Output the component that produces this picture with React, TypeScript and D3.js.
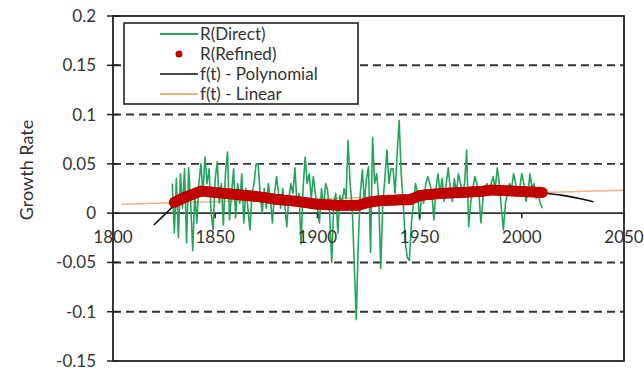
import React from "react";
import * as d3 from "d3";

const W = 644;
const H = 372;

const yTicks = [0.2, 0.15, 0.1, 0.05, 0, -0.05, -0.1, -0.15];
const yTickLabels = ["0.2", "0.15", "0.1", "0.05", "0", "-0.05", "-0.1", "-0.15"];
const xTicks = [1800, 1850, 1900, 1950, 2000, 2050];
const xTickLabels = ["1800", "1850", "1900", "1950", "2000", "2050"];

const directStartYear = 1829;
const directValues = [
  0.03, -0.02, 0.035, -0.025, 0.04, 0.005, 0.045, -0.03, 0.046, 0.01, -0.038,
  0.02, -0.01, 0.03, 0.05, 0.02, 0.057, 0.03, 0.045, 0.0, -0.017,
  0.035, 0.052, 0.01, 0.03, -0.012, 0.04, 0.062, -0.007, 0.02, 0.045,
  -0.005, 0.03, 0.01, 0.04, -0.01, 0.025, 0.005, -0.017, 0.02, 0.03,
  0.05, 0.05, 0.02, 0.0, 0.025, 0.005, 0.03, 0.015, -0.01, 0.02,
  0.037, 0.02, 0.005, 0.025, 0.01, -0.014, 0.015, 0.03, 0.02, 0.046,
  0.01, 0.02, -0.031, 0.025, 0.057, 0.03, 0.04, 0.015, 0.037, 0.02,
  0.005, -0.01, 0.025, 0.005, 0.03, 0.023, 0.0, -0.05, 0.01, 0.02,
  -0.02, 0.018, 0.01, 0.025, 0.015, 0.074, 0.03, 0.007, -0.05, -0.108,
  -0.03, 0.02, 0.044, 0.01, 0.035, 0.047, -0.04, 0.077, 0.03, 0.04,
  0.015, -0.056, 0.01, 0.035, 0.064, 0.03, 0.045, 0.045, 0.02, 0.06,
  0.094, 0.04, 0.01, -0.03, -0.045, -0.048, -0.01, 0.01, 0.03, 0.02,
  -0.007, 0.02, 0.01, 0.03, 0.037, 0.03, 0.02, -0.007, 0.025, 0.04,
  0.02, 0.035, 0.012, 0.03, 0.046, 0.025, 0.012, 0.035, 0.02, 0.04,
  0.03, 0.02, 0.03, 0.064, -0.014, 0.01, 0.025, 0.037, 0.03, 0.02,
  -0.01, 0.015, 0.025, 0.03, 0.02, 0.03, 0.037, 0.025, 0.046, 0.03,
  0.005, -0.017, 0.01, 0.02, 0.03, 0.025, 0.04, 0.03, 0.02, 0.025,
  0.04, 0.03, 0.012, 0.02, 0.04, 0.025, 0.03, 0.015, 0.02, 0.01,
  0.005,
];

const refinedYears = [1830, 1835, 1840, 1843, 1845, 1850, 1860, 1870, 1880, 1890, 1900, 1910, 1920, 1925, 1930, 1940, 1945, 1948, 1950, 1960, 1970, 1980, 1985, 1990, 2000, 2010];
const refinedValues = [0.011, 0.016, 0.020, 0.0225, 0.022, 0.021, 0.019, 0.017, 0.014, 0.012, 0.009, 0.008, 0.008, 0.011, 0.0125, 0.0135, 0.0135, 0.016, 0.018, 0.020, 0.021, 0.022, 0.0235, 0.023, 0.022, 0.021];

const polyYears = [1820, 1825, 1830, 1840, 1850, 1870, 1900, 1920, 1950, 1980, 2000, 2010, 2020, 2030, 2035];
const polyValues = [-0.012, -0.002, 0.008, 0.018, 0.02, 0.017, 0.01, 0.009, 0.017, 0.022, 0.022, 0.0205, 0.018, 0.014, 0.0115];

const linearYears = [1804, 2050];
const linearValues = [0.009, 0.0233];

const legendLabels = ["R(Direct)", "R(Refined)", "f(t) - Polynomial", "f(t) - Linear"];

const GREEN = "#22a55b";
const RED = "#c00000";
const ORANGE = "#f4b183";
const FONT = "Lato, 'Open Sans', sans-serif";
const TEXT = "#333";

export default function App() {
  const left = 113, right = 624, top = 16, bottom = 361;
  const x = d3.scaleLinear().domain([1800, 2050]).range([left, right]);
  const y = d3.scaleLinear().domain([-0.15, 0.2]).range([bottom, top]);

  const line = d3
    .line<[number, number]>()
    .x((d) => x(d[0]))
    .y((d) => y(d[1]));
  const smooth = d3
    .line<[number, number]>()
    .x((d) => x(d[0]))
    .y((d) => y(d[1]))
    .curve(d3.curveMonotoneX);

  const direct: [number, number][] = directValues.map((v, i) => [directStartYear + i, v]);
  const refinedInterp = d3.scaleLinear().domain(refinedYears).range(refinedValues);
  const refinedPts: [number, number][] = d3.range(1830, 2011, 1).map((yr) => [yr, refinedInterp(yr)]);
  const poly: [number, number][] = polyYears.map((yr, i) => [yr, polyValues[i]]);
  const lin: [number, number][] = linearYears.map((yr, i) => [yr, linearValues[i]]);

  const lx0 = 160, lx1 = 198, ltx = 200;
  const legendY = [34, 54, 74, 94];

  return (
    <svg width={W} height={H} style={{ position: "absolute", left: 0, top: 0, background: "#fff" }}>
      <rect x={0} y={0} width={W} height={H} fill="#fff" />
      {yTicks.map((t) =>
        t === 0.2 || t === -0.15 ? null : (
          <line
            key={t}
            x1={left}
            x2={right}
            y1={y(t)}
            y2={y(t)}
            stroke={t === 0 ? "#333" : "#333"}
            strokeWidth={1.9}
            strokeDasharray={t === 0 ? undefined : "8,5"}
          />
        )
      )}
      <path d={line(lin) || ""} fill="none" stroke={ORANGE} strokeWidth={1.6} />
      <path d={smooth(poly) || ""} fill="none" stroke="#111" strokeWidth={1.6} />
      <path d={line(direct) || ""} fill="none" stroke={GREEN} strokeWidth={1.6} strokeLinejoin="round" />
      {refinedPts.map((p, i) => (
        <circle key={i} cx={x(p[0])} cy={y(p[1])} r={5.5} fill={RED} />
      ))}
      <rect x={left} y={top} width={right - left} height={bottom - top} fill="none" stroke="#222" strokeWidth={1.8} />
      {yTicks.map((t, i) => (
        <g key={t}>
          <line x1={left - 6} x2={left + 6} y1={y(t)} y2={y(t)} stroke="#222" strokeWidth={1.5} />
          <text x={96} y={y(t)} dy="0.35em" textAnchor="end" fontFamily={FONT} fontSize={17} fill={TEXT}>
            {yTickLabels[i]}
          </text>
        </g>
      ))}
      {xTicks.map((t, i) => (
        <g key={t}>
          <line x1={x(t)} x2={x(t)} y1={y(0)} y2={y(0) + 5} stroke="#222" strokeWidth={1.5} />
          <text x={x(t)} y={243} textAnchor="middle" fontFamily={FONT} fontSize={17} fill={TEXT}>
            {xTickLabels[i]}
          </text>
        </g>
      ))}
      <text
        transform={`translate(27,170) rotate(-90)`}
        textAnchor="middle"
        dy="0.35em"
        fontFamily={FONT}
        fontSize={18}
        fill={TEXT}
      >
        Growth Rate
      </text>
      <rect x={124} y={23} width={234} height={81} fill="#fff" stroke="#222" strokeWidth={1.6} />
      <line x1={lx0} x2={lx1} y1={legendY[0]} y2={legendY[0]} stroke={GREEN} strokeWidth={1.8} />
      <circle cx={(lx0 + lx1) / 2} cy={legendY[1]} r={3.5} fill={RED} />
      <line x1={lx0} x2={lx1} y1={legendY[2]} y2={legendY[2]} stroke="#111" strokeWidth={1.6} />
      <line x1={lx0} x2={lx1} y1={legendY[3]} y2={legendY[3]} stroke={ORANGE} strokeWidth={1.8} />
      {legendLabels.map((l, i) => (
        <text key={l} x={ltx} y={legendY[i]} dy="0.35em" fontFamily={FONT} fontSize={17} fill={TEXT}>
          {l}
        </text>
      ))}
    </svg>
  );
}
